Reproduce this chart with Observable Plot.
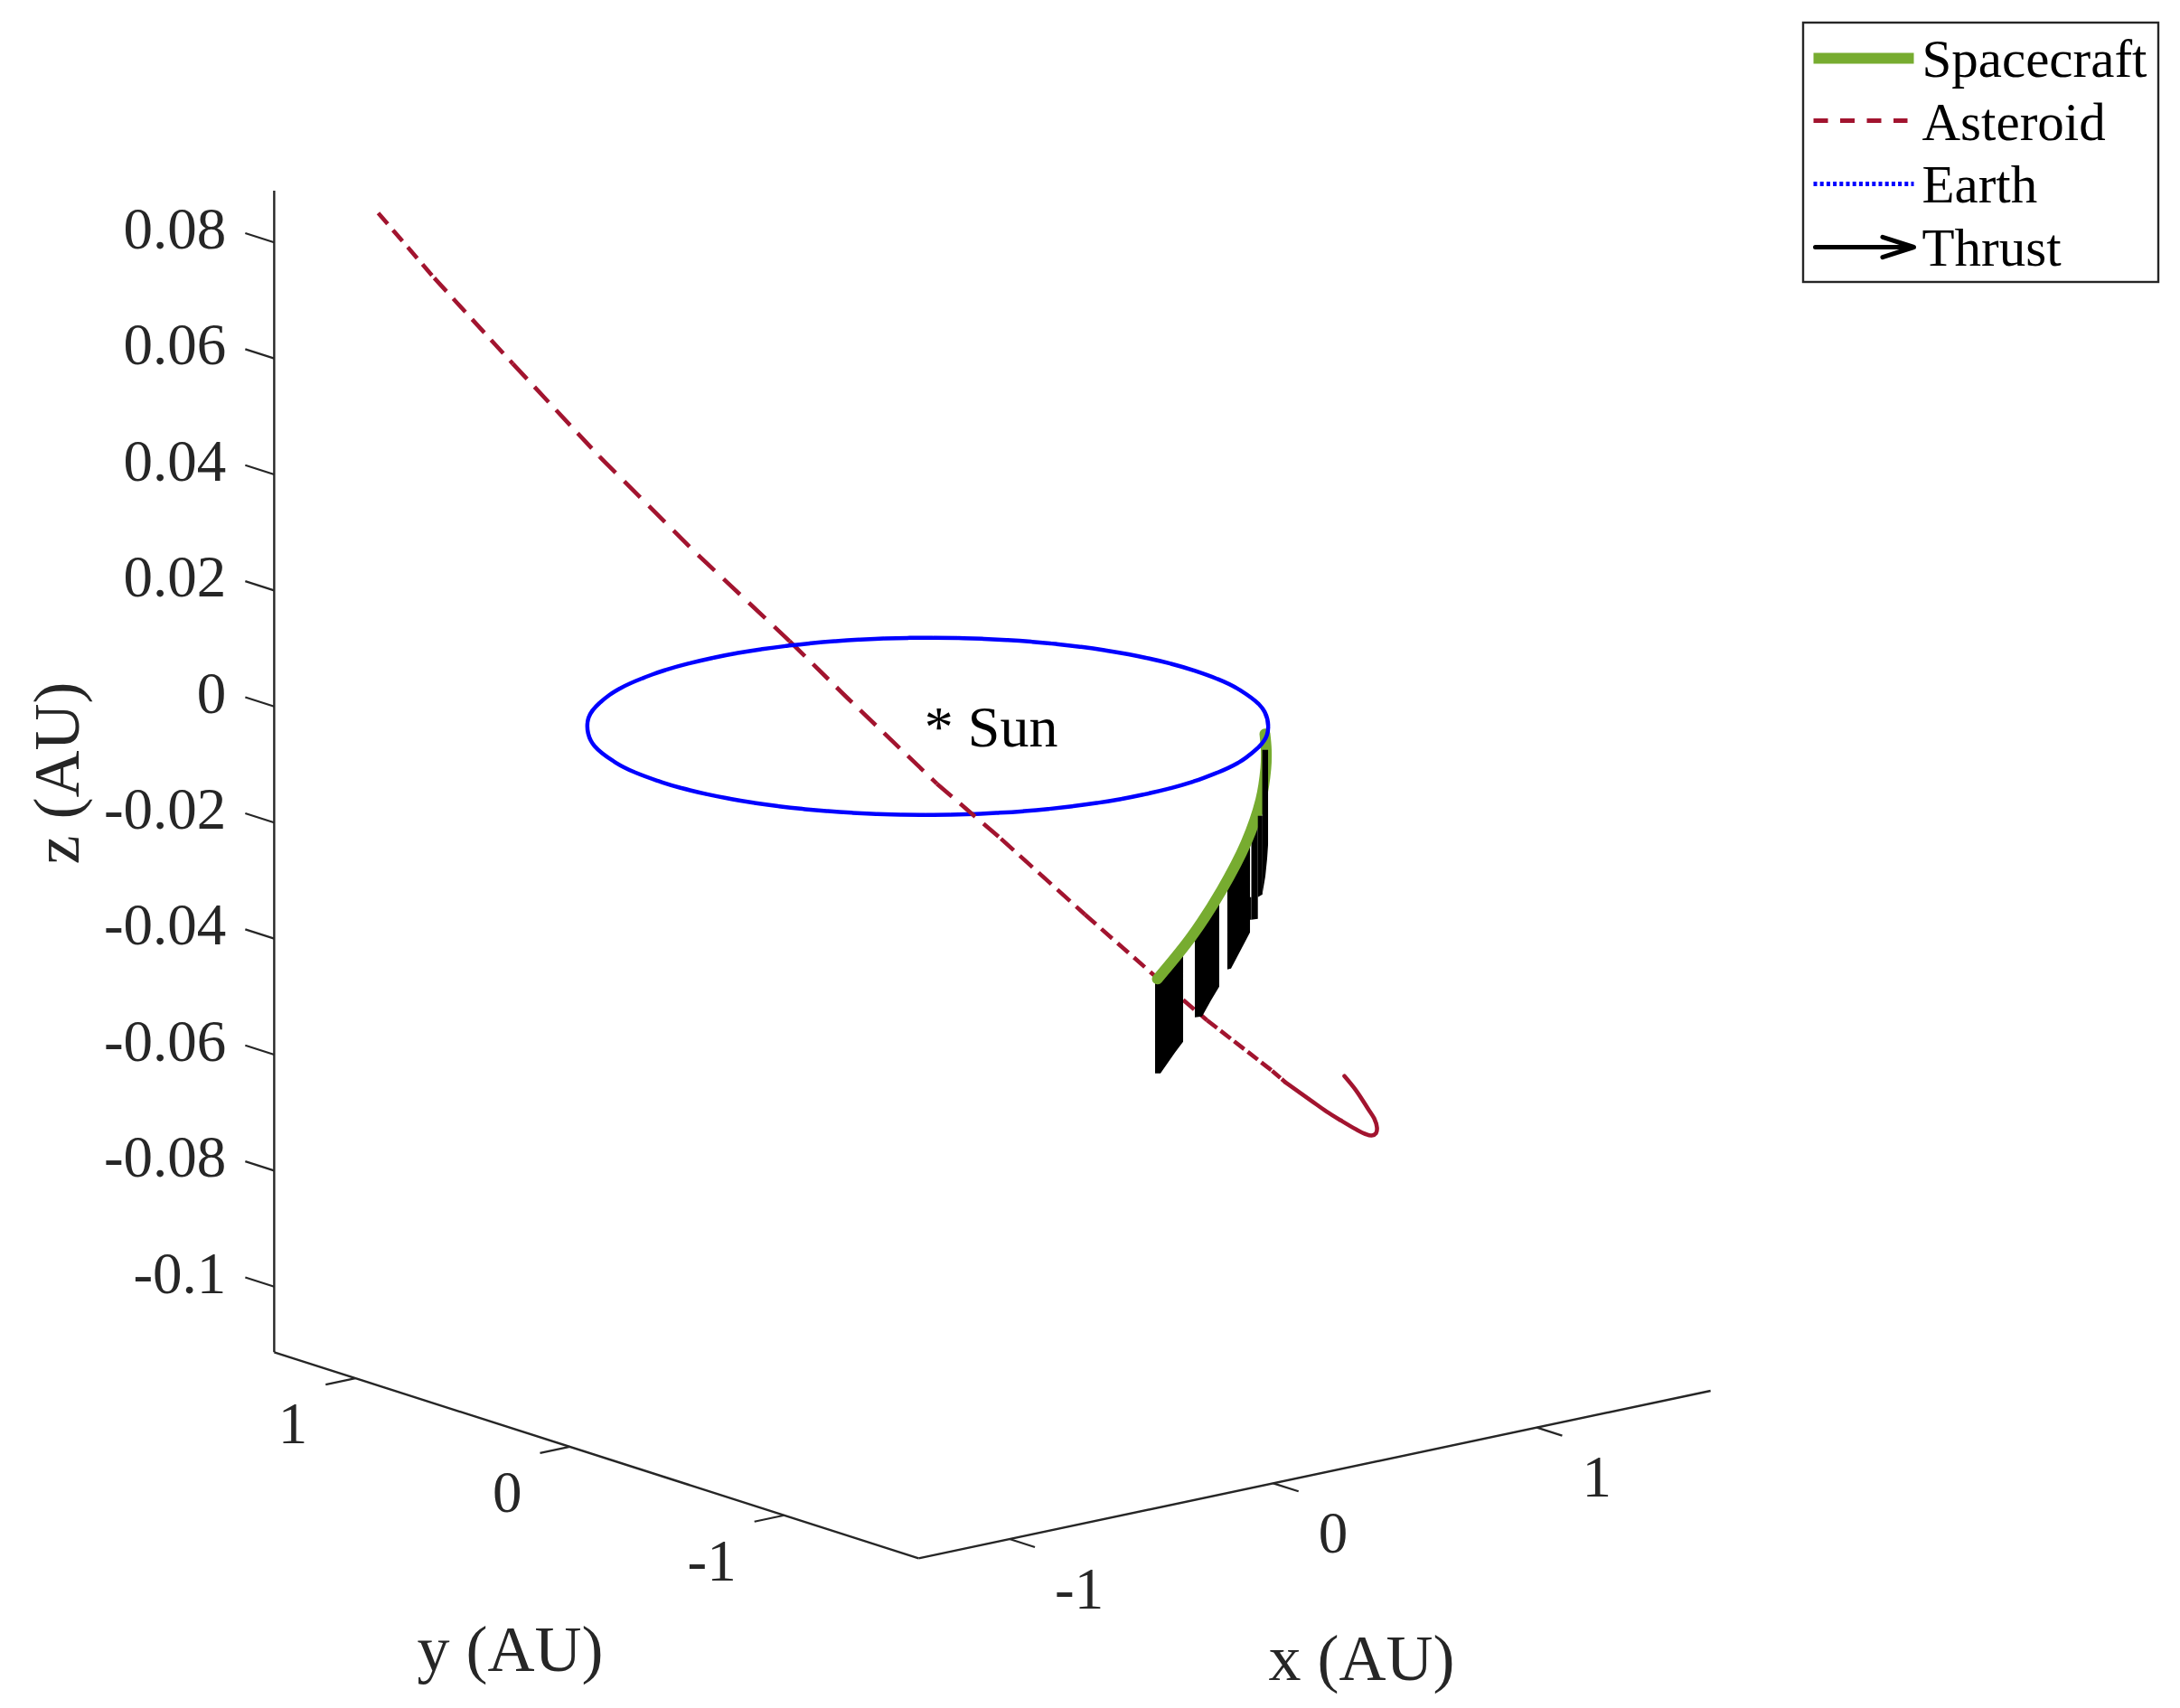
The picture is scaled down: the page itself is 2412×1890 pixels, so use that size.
<!DOCTYPE html>
<html>
<head>
<meta charset="utf-8">
<script src="https://cdn.jsdelivr.net/npm/d3@7"></script>
<script src="https://cdn.jsdelivr.net/npm/@observablehq/plot@0.6"></script>
<style>
html,body{margin:0;padding:0;background:#fff}
svg{display:block}
</style>
</head>
<body>
<div id="chart"></div>
<script>
// ---- values (AU) ----
const xTicks = [-1, 0, 1];
const yTicks = [1, 0, -1];
const zTicks = [0.08, 0.06, 0.04, 0.02, 0, -0.02, -0.04, -0.06, -0.08, -0.1];
const zTickLabels = ["0.08", "0.06", "0.04", "0.02", "0", "-0.02", "-0.04", "-0.06", "-0.08", "-0.1"];
const xLimits = [-1.345, 1.659];
const yLimits = [-1.627, 1.379];
const zLimits = [-0.1113, 0.0889];

const earthX = [1.0119, 0.9777, 0.8771, 0.7171, 0.5088, 0.2663, 0.0057, -0.2549, -0.4974, -0.7057, -0.8657, -0.9663, -1.0005, -0.9663, -0.8657, -0.7057, -0.4974, -0.2549, 0.0057, 0.2663, 0.5088, 0.7171, 0.8771, 0.9777];
const earthY = [-0.0086, 0.2504, 0.4914, 0.6984, 0.8574, 0.9574, 0.9914, 0.9574, 0.8574, 0.6984, 0.4914, 0.2504, -0.0086, -0.2676, -0.5086, -0.7156, -0.8746, -0.9746, -1.0086, -0.9746, -0.8746, -0.7156, -0.5086, -0.2676];

const asteroidX = [-1.2501, -1.1218, -0.9418, -0.7433, -0.5219, -0.3088, -0.1764, 0.0284, 0.1752, 0.3676, 0.5228, 0.6469, 0.7958, 0.8269, 0.8849, 0.92, 0.9531, 0.9882, 1.0089, 1.0235, 1.0337, 1.0358, 1.0296, 1.0151, 0.9882, 0.9613];
const asteroidY = [1.0104, 0.9067, 0.7613, 0.6008, 0.4218, 0.2497, 0.1427, -0.023, -0.1416, -0.2971, -0.4225, -0.5228, -0.6433, -0.6684, -0.7151, -0.7435, -0.7703, -0.7987, -0.8154, -0.8271, -0.8355, -0.8372, -0.8322, -0.8204, -0.7987, -0.777];
const asteroidZ = [0.0885, 0.07729, 0.06249, 0.04645, 0.02978, 0.01467, 0.00486, -0.00994, -0.01944, -0.03252, -0.0428, -0.05075, -0.05947, -0.0615, -0.06461, -0.06648, -0.06804, -0.0696, -0.07037, -0.07064, -0.07022, -0.06928, -0.06773, -0.06601, -0.0629, -0.0604];

const craftX = [0.7793, 0.7824, 0.7813, 0.77, 0.7358, 0.68, 0.6117, 0.5331];
const craftY = [-0.6298, -0.6323, -0.6315, -0.6223, -0.5947, -0.5496, -0.4944, -0.4309];
const craftZ = [-0.00142, -0.00422, -0.00734, -0.01279, -0.02026, -0.02836, -0.03631, -0.04363];

const thrustArc = [1, 1, 1, 1, 2, 2, 2, 2, 3, 3, 3, 3, 4, 4, 7, 7, 5, 5, 6, 6, 6, 6];
const thrustX = [0.529, 0.5413, 0.5744, 0.5931, 0.62, 0.6365, 0.6572, 0.6758, 0.6944, 0.7027, 0.7234, 0.7462, 0.7493, 0.7642, 0.7462, 0.7493, 0.7642, 0.7747, 0.7743, 0.7813, 0.7855, 0.7876];
const thrustY = [-0.4275, -0.4375, -0.4643, -0.4794, -0.5011, -0.5145, -0.5312, -0.5462, -0.5612, -0.568, -0.5847, -0.6031, -0.6056, -0.6176, -0.6031, -0.6056, -0.6176, -0.6262, -0.6258, -0.6315, -0.6349, -0.6365];
const thrustZ = [-0.04363, -0.04285, -0.04036, -0.03849, -0.03646, -0.03444, -0.0321, -0.02961, -0.02712, -0.02572, -0.02213, -0.01933, -0.01746, -0.0159, -0.02961, -0.02961, -0.01559, -0.01559, -0.00422, -0.00422, -0.00422, -0.00422];
const thrustLength = [0.01636, 0.01713, 0.01604, 0.01604, 0.01386, 0.01573, 0.01526, 0.01542, 0.01495, 0.0162, 0.01682, 0.01636, 0.01604, 0.01745, 0.00389, 0.00389, 0.01402, 0.01355, 0.02492, 0.02181, 0.01869, 0.01636];

const sunLabel = "* Sun";
const axisLabels = ["x (AU)", "y (AU)", "z (AU)"];
const legendLabels = ["Spacecraft", "Asteroid", "Earth", "Thrust"];

// ---- styles ----
const green = "#77AC30", red = "#A2142F", blue = "#0000FF", ink = "#262626";
// the asteroid's dash length changes along its path: [first point, last point, dash pattern]
const asteroidPieces = [
  [0, 1, "16,9"], [1, 2, "20,11"], [2, 3, "23,12"], [3, 5, "25,13.5"], [5, 7, "24,12.5"],
  [7, 8, "22,12"], [8, 9, "19,9"], [9, 11, "16,8"], [11, 12, "14,5"], [12, 13, "12,2"], [13, 25, "none"]
];

// ---- view: the orthographic view of the 3-D axes ----
const U = (x, y) => 1022.3 + 291.7 * x - 237.2 * y;
const V = (x, y, z) => 802.9 - 61.7 * x - 75.85 * y - 6420 * z;
const pt = (x, y, z) => ({u: U(x, y), v: V(x, y, z)});

const earth = earthX.map((x, i) => pt(x, earthY[i], 0));
const asteroid = asteroidX.map((x, i) => pt(x, asteroidY[i], asteroidZ[i]));
const craft = craftX.map((x, i) => pt(x, craftY[i], craftZ[i]));
const thrust = thrustX.map((x, i) => ({
  arc: thrustArc[i],
  u: U(x, thrustY[i]),
  top: V(x, thrustY[i], thrustZ[i]),
  bottom: V(x, thrustY[i], thrustZ[i] - thrustLength[i])
}));

const [x0, x1] = xLimits, [y0, y1] = yLimits, [z0, z1] = zLimits;
const seg = (a, b) => ({x1: U(a[0], a[1]), y1: V(a[0], a[1], a[2]), x2: U(b[0], b[1]), y2: V(b[0], b[1], b[2])});
const axisSegments = [
  seg([x0, y1, z0], [x0, y1, z1]),
  seg([x0, y1, z0], [x0, y0, z0]),
  seg([x0, y0, z0], [x1, y0, z0])
];
const tickSegments = [
  ...zTicks.map(z => seg([x0, y1, z], [x0, y1 + 0.135, z])),
  ...yTicks.map(y => seg([x0, y, z0], [x0 - 0.113, y, z0])),
  ...xTicks.map(x => seg([x, y0, z0], [x, y0 - 0.118, z0]))
];
const linkOpts = {x1: "x1", y1: "y1", x2: "x2", y2: "y2", stroke: ink};

const legendRow = [64, 133, 203, 273];
const legendLine = (i, extra) => Plot.link([0], {x1: () => 2006, x2: () => extra.end, y1: () => legendRow[i], y2: () => legendRow[i], stroke: extra.stroke, strokeWidth: extra.w, strokeDasharray: extra.dash});

const asteroidMark = ([a, b, dash]) => Plot.line(asteroid.slice(a, b + 1), {
  x: "u", y: "v", stroke: red, strokeWidth: 4.6, strokeLinejoin: "round",
  strokeLinecap: dash === "none" ? "round" : "butt",
  strokeDasharray: dash === "none" ? null : dash,
  curve: dash === "none" ? "catmull-rom" : "linear"
});

const marks = [
  Plot.link(axisSegments, {...linkOpts, strokeWidth: 2.4}),
  Plot.link(tickSegments, {...linkOpts, strokeWidth: 2.2}),
  Plot.text(zTicks, {x: z => U(x0, y1), y: z => V(x0, y1, z), text: (d, i) => zTickLabels[i], dx: -53, dy: -14, textAnchor: "end", lineAnchor: "middle", fontSize: 65, fill: ink}),
  Plot.text(yTicks, {x: y => U(x0, y), y: y => V(x0, y, z0), text: d => String(d), dx: -53, dy: 51, textAnchor: "end", lineAnchor: "middle", fontSize: 65, fill: ink}),
  Plot.text(xTicks, {x: x => U(x, y0), y: x => V(x, y0, z0), text: d => String(d), dx: 50, dy: 56, textAnchor: "start", lineAnchor: "middle", fontSize: 65, fill: ink}),
  Plot.text([axisLabels[0]], {x: () => 1506, y: () => 1835, text: d => d, fontSize: 72, fill: ink, lineAnchor: "middle"}),
  Plot.text([axisLabels[1]], {x: () => 564, y: () => 1825, text: d => d, fontSize: 72, fill: ink, lineAnchor: "middle"}),
  Plot.text([axisLabels[2]], {x: () => 63, y: () => 855, text: d => d, fontSize: 72, fill: ink, lineAnchor: "middle", rotate: -90}),

  ...asteroidPieces.filter((d, i) => i !== 5).map(asteroidMark),
  Plot.areaY(thrust.filter(d => d.arc !== 5 && d.arc !== 6), {x: "u", y1: "top", y2: "bottom", z: "arc", fill: "#000"}),
  Plot.line(craft, {x: "u", y: "v", stroke: green, strokeWidth: 12, strokeLinecap: "round", strokeLinejoin: "round", curve: "catmull-rom"}),
  Plot.areaY(thrust.filter(d => d.arc === 5 || d.arc === 6), {x: "u", y1: "top", y2: "bottom", z: "arc", fill: "#000"}),
  Plot.line(earth, {x: "u", y: "v", stroke: blue, strokeWidth: 4.5, curve: "catmull-rom-closed", strokeDasharray: "26,1.2"}),
  asteroidMark(asteroidPieces[5]),
  Plot.text([sunLabel], {x: () => U(0, 0), y: () => V(0, 0, 0), text: d => d, dy: 2, textAnchor: "start", lineAnchor: "middle", fontSize: 64, fill: "#000"}),

  Plot.rect([0], {x1: () => 1995, x2: () => 2388, y1: () => 25, y2: () => 312, stroke: ink, strokeWidth: 2.4, fill: "#fff"}),
  legendLine(0, {end: 2117, stroke: green, w: 12}),
  legendLine(1, {end: 2110, stroke: red, w: 5, dash: "16,13.5"}),
  legendLine(2, {end: 2117, stroke: blue, w: 5, dash: "4,3.2"}),
  Plot.arrow([0], {x1: () => 2008, y1: () => legendRow[3], x2: () => 2117, y2: () => legendRow[3], stroke: "#000", strokeWidth: 5, headAngle: 36, headLength: 40}),
  Plot.text(legendLabels, {x: () => 2126, y: (d, i) => [66, 136, 205, 275][i], text: d => d, textAnchor: "start", lineAnchor: "middle", fontSize: 59, fill: "#000"})
];

const chart = Plot.plot({
  width: 2412, height: 1890,
  margin: 0,
  x: {domain: [0, 2412], range: [0, 2412], axis: null},
  y: {domain: [0, 1890], range: [0, 1890], axis: null},
  style: {fontFamily: "'Liberation Serif', serif", background: "#fff"},
  marks
});
document.getElementById("chart").append(chart);
</script>
</body>
</html>
